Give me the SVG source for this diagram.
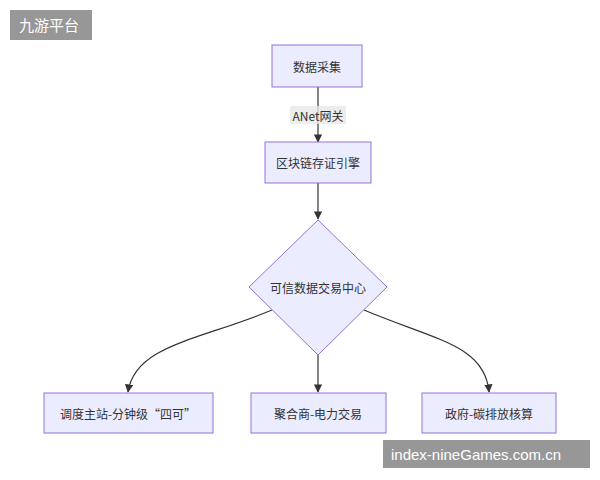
<svg xmlns="http://www.w3.org/2000/svg" width="600" height="480" viewBox="0 0 600 480">
<style>
.n{fill:#ECECFF;stroke:#9370DB;stroke-width:1}
.t{font-family:"Noto Sans CJK SC","Liberation Sans",sans-serif;font-size:12px;fill:#333;text-anchor:middle;dominant-baseline:central}
.e{fill:none;stroke:#333;stroke-width:1.2}
.w{font-family:"Liberation Sans","Noto Sans CJK SC",sans-serif;font-size:15px;fill:#fff;dominant-baseline:central}
</style>
<defs><marker id="a" viewBox="0 0 10 10" refX="9" refY="5" markerWidth="7" markerHeight="7" orient="auto"><path d="M0,0L10,5L0,10z" fill="#333"/></marker></defs>
<rect width="600" height="480" fill="#fff"/>
<g id="edges">
<path class="e" d="M318,87V142" marker-end="url(#a)"/>
<path class="e" d="M318,183V219" marker-end="url(#a)"/>
<path class="e" d="M272,310C200,340 135,345 128,392" marker-end="url(#a)"/>
<path class="e" d="M318,355V392" marker-end="url(#a)"/>
<path class="e" d="M364,310C435,340 485,345 489,392" marker-end="url(#a)"/>
<rect x="290" y="106" width="56" height="18" fill="#e8e8e8" opacity="0.8"/>
<text class="t" x="318" y="115">ANet网关</text>
</g>
<g id="n1"><rect class="n" x="272" y="45" width="90" height="42"/><text class="t" x="317" y="66">数据采集</text></g>
<g id="n2"><rect class="n" x="265" y="142" width="106" height="41"/><text class="t" x="318" y="162">区块链存证引擎</text></g>
<g id="n3"><polygon class="n" points="318,220 387,287 318,355 249,287"/><text class="t" x="318" y="287">可信数据交易中心</text></g>
<g id="n4"><rect class="n" x="44" y="393" width="169" height="40"/><text class="t" x="128" y="413">调度主站-分钟级“四可”</text></g>
<g id="n5"><rect class="n" x="251" y="393" width="135" height="40"/><text class="t" x="318" y="413">聚合商-电力交易</text></g>
<g id="n6"><rect class="n" x="422" y="393" width="134" height="40"/><text class="t" x="489" y="413">政府-碳排放核算</text></g>
<rect x="10" y="10" width="82" height="30" fill="#8c8c8c" opacity="0.9"/>
<text class="w" x="19" y="25" font-family="Noto Sans CJK SC,sans-serif">九游平台</text>
<rect x="383" y="440" width="207" height="28" fill="#8c8c8c" opacity="0.9"/>
<text class="w" x="391" y="454">index-nineGames.com.cn</text>
</svg>
